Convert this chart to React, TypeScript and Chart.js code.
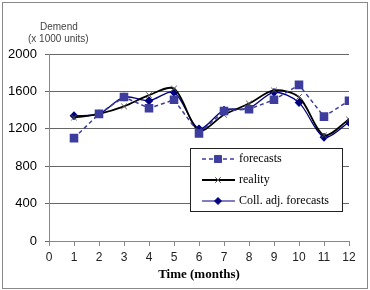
import React, { useEffect, useRef } from "react";
import { Chart, registerables } from "chart.js";

Chart.register(...registerables);

const months = [1, 2, 3, 4, 5, 6, 7, 8, 9, 10, 11, 12];
const forecasts = [1100, 1360, 1540, 1420, 1510, 1150, 1390, 1410, 1510, 1670, 1330, 1500];
const reality = [1320, 1360, 1440, 1560, 1630, 1180, 1350, 1470, 1610, 1540, 1130, 1300];
const collAdj = [1340, 1360, 1540, 1500, 1590, 1200, 1400, 1420, 1590, 1480, 1110, 1270];
const yTicks = [0, 400, 800, 1200, 1600, 2000];
const xTicks = [0, 1, 2, 3, 4, 5, 6, 7, 8, 9, 10, 11, 12];
const legendLabels = ["forecasts", "reality", "Coll. adj. forecasts"];
const yTitle = ["Demend", "(x 1000 units)"];
const xTitle = "Time (months)";

const FC = "#3d3d9e";
const CA = "#000080";

function drawPoint(ctx: any, style: string, r: number, x: number, y: number, fill: string, stroke: string) {
  ctx.save();
  ctx.fillStyle = fill;
  ctx.strokeStyle = stroke;
  ctx.lineWidth = 1;
  ctx.setLineDash([]);
  ctx.beginPath();
  if (style === "rect") {
    const s = r * Math.SQRT1_2;
    ctx.rect(x - s, y - s, 2 * s, 2 * s);
    ctx.fill();
    ctx.stroke();
  } else if (style === "rectRot") {
    ctx.moveTo(x, y - r);
    ctx.lineTo(x + r, y);
    ctx.lineTo(x, y + r);
    ctx.lineTo(x - r, y);
    ctx.closePath();
    ctx.fill();
    ctx.stroke();
  } else {
    const s = r * Math.SQRT1_2;
    ctx.moveTo(x - s, y - s);
    ctx.lineTo(x + s, y + s);
    ctx.moveTo(x + s, y - s);
    ctx.lineTo(x - s, y + s);
    ctx.stroke();
  }
  ctx.restore();
}

const overlay = {
  id: "overlay",
  afterDraw(chart: any) {
    const ctx = chart.ctx;
    ctx.save();
    ctx.fillStyle = "#444";
    ctx.font = "10px 'Liberation Sans', Arial, sans-serif";
    ctx.textBaseline = "middle";
    ctx.textAlign = "left";
    ctx.fillText(yTitle[0], 40, 27);
    ctx.fillText(yTitle[1], 28, 39);
    const bx = 190, by = 148, bw = 152, bh = 63;
    ctx.fillStyle = "#fff";
    ctx.fillRect(bx, by, bw, bh);
    ctx.strokeStyle = "#222";
    ctx.lineWidth = 1;
    ctx.strokeRect(bx + 0.5, by + 0.5, bw, bh);
    const rows = [159, 180, 201];
    const ds = chart.data.datasets;
    ctx.font = "12px 'Liberation Serif', 'Times New Roman', serif";
    rows.forEach((ry: number, i: number) => {
      const d = ds[i];
      ctx.save();
      ctx.strokeStyle = d.borderColor;
      ctx.lineWidth = i === 2 ? 1 : d.borderWidth;
      ctx.setLineDash(d.borderDash || []);
      ctx.beginPath();
      ctx.moveTo(202, ry);
      ctx.lineTo(235, ry);
      ctx.stroke();
      ctx.restore();
      drawPoint(ctx, d.pointStyle, d.pointRadius, 218, ry, d.pointBackgroundColor, d.pointBorderColor);
      ctx.fillStyle = "#000";
      ctx.textAlign = "left";
      ctx.textBaseline = "middle";
      ctx.fillText(legendLabels[i], 239, ry);
    });
    ctx.restore();
  },
};

export default function App() {
  const ref = useRef<HTMLCanvasElement | null>(null);
  useEffect(() => {
    const chart = new Chart(ref.current as HTMLCanvasElement, {
      type: "line",
      data: {
        datasets: [
          {
            label: legendLabels[0],
            data: months.map((m, i) => ({ x: m, y: forecasts[i] })),
            borderColor: FC,
            backgroundColor: FC,
            borderWidth: 1.5,
            borderDash: [4, 3],
            pointStyle: "rect",
            pointRadius: 5,
            pointBackgroundColor: FC,
            pointBorderColor: FC,
            tension: 0,
          },
          {
            label: legendLabels[1],
            data: months.map((m, i) => ({ x: m, y: reality[i] })),
            borderColor: "#000",
            backgroundColor: "#000",
            borderWidth: 1.8,
            pointStyle: "crossRot",
            pointRadius: 4,
            pointBackgroundColor: "#000",
            pointBorderColor: "#555",
            pointBorderWidth: 1,
            tension: 0.3,
          },
          {
            label: legendLabels[2],
            data: months.map((m, i) => ({ x: m, y: collAdj[i] })),
            borderColor: CA,
            backgroundColor: CA,
            borderWidth: 1.3,
            pointStyle: "rectRot",
            pointRadius: 3.5,
            pointBackgroundColor: CA,
            pointBorderColor: CA,
            tension: 0.3,
          },
        ] as any,
      },
      options: {
        animation: false,
        responsive: false,
        maintainAspectRatio: false,
        layout: { padding: { left: 0, right: 21, top: 54, bottom: 0 } },
        plugins: { legend: { display: false }, tooltip: { enabled: false } },
        scales: {
          x: {
            type: "linear",
            min: 0,
            max: 12,
            afterBuildTicks: (s: any) => {
              s.ticks = xTicks.map((v) => ({ value: v }));
            },
            afterFit: (s: any) => {
              s.height = 49;
            },
            grid: { drawOnChartArea: false, drawTicks: true, tickLength: 5, color: "#888" },
            border: { color: "#888", width: 1 },
            ticks: {
              color: "#222",
              font: { size: 12, family: "'Liberation Sans', Arial, sans-serif" },
              padding: 4,
              maxRotation: 0,
              autoSkip: false,
              callback: (v: any) => String(v),
            },
            title: {
              display: true,
              text: xTitle,
              color: "#000",
              font: { size: 13, weight: "bold", family: "'Liberation Serif', 'Times New Roman', serif" },
              padding: { top: 0, bottom: 8 },
            },
          },
          y: {
            min: 0,
            max: 2000,
            afterBuildTicks: (s: any) => {
              s.ticks = yTicks.map((v) => ({ value: v }));
            },
            afterFit: (s: any) => {
              s.width = 49;
            },
            grid: { color: "#666", tickLength: 4, drawTicks: true },
            border: { color: "#888", width: 1 },
            ticks: {
              color: "#000",
              font: { size: 13, family: "'Liberation Sans', Arial, sans-serif" },
              padding: 8,
              callback: (v: any) => String(v),
            },
          },
        },
      },
      plugins: [overlay],
    } as any);
    return () => chart.destroy();
  }, []);
  return (
    <div style={{ position: "fixed", left: 0, top: 0, width: 370, height: 290, background: "#fff" }}>
      <div style={{ position: "absolute", left: 2, top: 2, width: 364, height: 285, border: "1px solid #888" }} />
      <canvas ref={ref} width={370} height={290} style={{ position: "absolute", left: 0, top: 0, width: 370, height: 290 }} />
    </div>
  );
}
